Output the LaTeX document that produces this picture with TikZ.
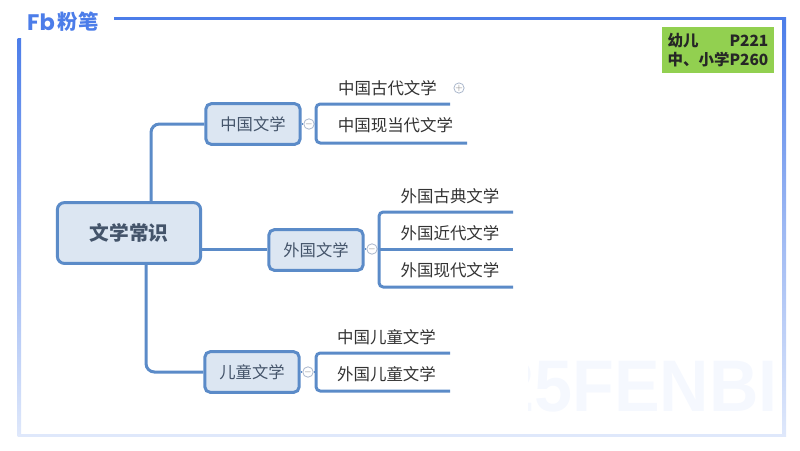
\documentclass[tikz,border=0pt]{standalone}
\usepackage{fontspec}
\setmainfont{Noto Sans CJK SC}
\newfontfamily\markfont{Liberation Sans}
\newfontfamily\logofont{Poppins}
\usetikzlibrary{positioning, calc}
\definecolor{framecol}{HTML}{4C7DE9}
\definecolor{framepale}{HTML}{DFE8FB}
\definecolor{linecol}{HTML}{5B8BC8}
\definecolor{boxfill}{HTML}{DCE6F2}
\definecolor{boxtext}{HTML}{44546A}
\definecolor{leaftext}{HTML}{333333}
\definecolor{notefill}{HTML}{92D050}
\definecolor{togglecol}{HTML}{A9B6CB}

\begin{document}
\begin{tikzpicture}[
        x=0.025cm, y=-0.025cm,
        branch/.style={
          draw=linecol, line width=0.75mm, rounded corners=3pt
        },
        block/.style={
          align=center, draw=linecol, fill=boxfill, text=boxtext, line width=0.75mm, rounded corners=4pt,
          minimum width=2.36cm, minimum height=1.02cm, inner sep=0pt, font=\fontsize{11.6}{12}\selectfont
        },
        rootblock/.style={
          block, minimum width=3.58cm, minimum height=1.52cm, rounded corners=5pt, font=\fontsize{14}{15}\selectfont\bfseries
        },
        leaf/.style={
          text=leaftext, inner sep=0pt, font=\fontsize{11.7}{12}\selectfont
        },
        toggle/.style={
          circle, draw=togglecol, fill=white, line width=0.2mm, minimum size=0.25cm, inner sep=0pt,
          text=gray, font=\fontsize{6}{6}\selectfont
        },
      ]
        \useasboundingbox (0,0) rectangle (800,450);

        % frame
        \shade [top color=framecol, bottom color=framepale] (17.5,38) rectangle (21,436);
        \shade [top color=framecol, bottom color=framepale, middle color=framecol!45!framepale] (782.5,17) rectangle (786,436);
        \fill [framepale] (17.5,433.5) rectangle (786,437);
        \fill [framecol] (114,16.5) rectangle (786,20);

        % logo
        \node [inner sep=0pt, text=framecol, font=\logofont\fontsize{16}{16}\selectfont\bfseries] (logo_mark) at (41,22) {Fb};
        \node [inner sep=0pt, text=framecol, font=\fontsize{14.5}{15}\selectfont\bfseries] (logo_name) at (78,22) {粉笔};

        % watermark
        \begin{scope}
          \clip (528,340) rectangle (780,430);
          \node [anchor=east, inner sep=0pt, xscale=0.935, text=framepale!30, font=\markfont\fontsize{52}{52}\selectfont\bfseries] (watermark) at (778,386) {25FENBI};
        \end{scope}

        % note
        \node [fill=notefill, minimum width=2.8cm, minimum height=1.15cm, inner sep=0pt, align=left, text=black!85, font=\fontsize{11}{13.6}\selectfont\bfseries] (note) at (718,50) {幼儿\hspace{2em}P221\\中、小学P260};

        % blocks
        \node [rootblock] (root) at (129,233) {文学常识};
        \node [block] (zhongguo) at (253,124) {中国文学};
        \node [block] (waiguo) at (316,250) {外国文学};
        \node [block] (ertong) at (252,372) {儿童文学};

        % branches of the root
        \coordinate (top_stem) at (151,124);
        \coordinate (bottom_stem) at (146,372);
        \draw [branch, rounded corners=6pt] (zhongguo.west) -- (top_stem) -- (top_stem |- root.north);
        \draw [branch, rounded corners=6pt] (ertong.west) -- (bottom_stem) -- (bottom_stem |- root.south);

        % toggles
        \node [toggle] (zhongguo_toggle) at (309,124) {$-$};
        \node [toggle] (waiguo_toggle) at (372,249) {$-$};
        \node [toggle] (ertong_toggle) at (308,372) {$-$};
        \node [toggle] (gudai_toggle) at (459,88) {$+$};
        \draw [branch] (root.east |- waiguo_toggle) -- (waiguo.west |- waiguo_toggle);

        % labels China
        \node [leaf] (gudai) at (387.5,88) {中国古代文学};
        \node [leaf] (xiandai) at (395.5,125) {中国现当代文学};
        \coordinate (gudai_end) at (450,104);
        \coordinate (xiandai_end) at (467,143);
        \coordinate (zhongguo_bend) at (316,124);

        % labels abroad
        \node [leaf] (wg_gudian) at (450,196) {外国古典文学};
        \node [leaf] (wg_jindai) at (450,233) {外国近代文学};
        \node [leaf] (wg_xiandai) at (450,270) {外国现代文学};
        \coordinate (gudian_end) at (513,212);
        \coordinate (jindai_end) at (513,249);
        \coordinate (wgxd_end) at (513,287);
        \coordinate (waiguo_bend) at (379,249);

        % labels children
        \node [leaf] (et_zhong) at (386.5,337) {中国儿童文学};
        \node [leaf] (et_wai) at (386.5,374) {外国儿童文学};
        \coordinate (etzhong_end) at (450,353);
        \coordinate (etwai_end) at (450,391);
        \coordinate (ertong_bend) at (316,372);

        % leaf lines
        \draw [branch] (gudai_end) -| (zhongguo_bend) |- (xiandai_end);
        \draw [branch] (gudian_end) -| (waiguo_bend) |- (wgxd_end);
        \draw [branch] (waiguo_bend) -- (jindai_end);
        \draw [branch] (etzhong_end) -| (ertong_bend) |- (etwai_end);

        % toggle stubs
        \draw [branch, line width=0.4mm] (zhongguo.east) -- (zhongguo_toggle);
        \draw [branch, line width=0.4mm] (zhongguo_toggle) -- (zhongguo_bend);
        \draw [branch, line width=0.4mm] (waiguo.east |- waiguo_toggle) -- (waiguo_toggle);
        \draw [branch, line width=0.4mm] (waiguo_toggle) -- (waiguo_bend);
        \draw [branch, line width=0.4mm] (ertong.east) -- (ertong_toggle);
        \draw [branch, line width=0.4mm] (ertong_toggle) -- (ertong_bend);
      \end{tikzpicture}
\end{document}
